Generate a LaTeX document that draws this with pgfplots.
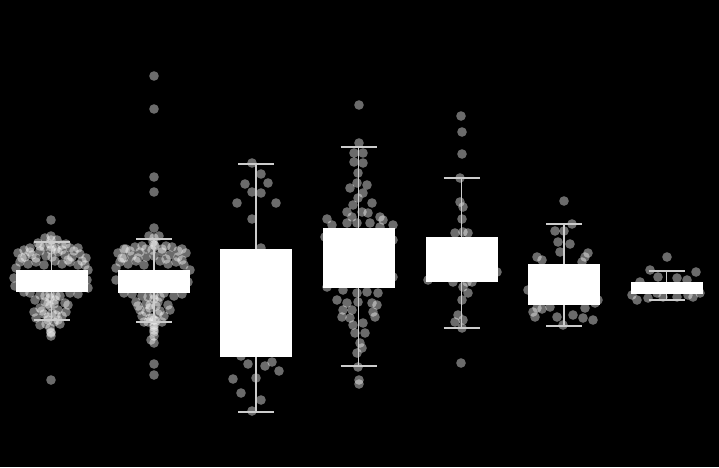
\documentclass[border=0pt]{standalone}
\usepackage{pgfplots}
\pgfplotsset{compat=1.18}
\usepgfplotslibrary{statistics}
\pgfplotsset{boxplot/draw direction=y,
  boxplot/every box/.style={draw=white, fill=white},
  boxplot/every median/.style={draw=white},
  boxplot/every whisker/.style={draw=white!80!black, line width=1.2pt}}
\begin{document}
\begin{tikzpicture}
\fill[black] (0,0) rectangle (719pt,467pt);
\begin{axis}[
  scale only axis, width=719pt, height=467pt,
  xmin=0, xmax=719, ymin=0, ymax=467, y dir=reverse,
  hide axis, clip marker paths=true,
]
% jittered points (x = position, y = value)
\addplot[only marks, mark=*, mark size=4.8pt, color=white, draw opacity=0, fill opacity=0.42] table {
x y
51 220
51 236
51 240
50 244
52 247
38 243
62 245
70 248
30 248
44 247
56 249
45 238
57 240
51 250
40 246
62 250
30 252
74 251
24 250
78 248
66 244
18 253
25 257
32 255
40 251
46 256
58 252
65 255
72 257
80 254
86 258
22 258
36 258
52 257
68 260
82 261
20 262
28 264
36 262
44 265
55 261
62 264
70 262
78 265
85 265
16 268
88 270
14 278
87 280
15 286
88 288
30 293
40 295
50 294
60 296
70 293
24 292
78 294
45 296
56 296
35 300
45 302
55 300
65 303
50 298
48 304
54 304
40 308
50 306
58 310
42 311
56 315
48 317
54 322
46 324
34 312
68 305
60 324
44 314
52 313
62 316
36 318
48 320
58 320
66 312
40 325
50 328
51 332
51 333
51 336
51 380
154 76
154 109
154 177
154 192
154 228
154 238
149 236
159 236
154 245
142 246
166 246
130 251
178 251
124 249
153 242
155 246
152 250
135 247
172 247
126 249
182 249
146 249
162 249
118 253
124 258
132 256
140 252
146 257
162 252
170 255
178 257
186 253
122 258
138 258
154 256
166 259
182 260
120 262
128 264
136 261
144 265
160 261
168 264
176 262
184 265
116 268
190 270
116 280
188 282
132 294
142 296
154 295
164 293
174 296
124 293
182 294
148 297
160 297
136 302
146 304
158 302
168 305
154 299
150 305
156 306
146 312
158 314
150 318
154 320
144 322
162 322
154 325
138 306
170 310
140 310
150 308
160 311
142 316
152 318
164 316
148 322
156 321
154 327
154 330
154 332
154 336
151 340
154 343
154 364
154 375
252 163
261 174
245 184
268 183
252 192
261 193
237 203
276 203
252 219
261 248
240 260
270 280
250 300
262 320
245 340
275 345
241 356
248 364
265 366
272 362
279 371
233 379
256 378
241 393
261 400
252 411
359 105
359 143
354 153
363 153
354 162
363 163
358 173
357 183
367 185
350 188
363 193
358 198
353 205
372 203
347 212
362 212
368 213
352 217
380 217
327 219
383 220
347 223
393 225
332 225
357 223
370 223
380 227
325 237
393 240
340 250
375 260
355 270
327 287
393 277
343 290
357 293
367 292
378 293
337 300
347 303
358 302
372 303
343 310
352 310
377 305
342 317
350 318
373 312
375 317
353 325
363 323
355 333
365 333
360 343
362 348
357 353
358 367
359 380
359 384
461 116
462 132
462 154
460 178
460 202
463 207
462 219
455 233
468 233
463 232
440 255
480 262
428 280
453 282
467 282
472 282
497 272
463 287
468 293
462 300
458 315
455 322
463 320
462 328
461 363
564 201
572 224
555 231
564 231
558 242
570 244
560 252
588 253
585 257
537 257
542 260
582 262
560 280
528 290
598 300
537 308
533 312
542 309
550 307
535 317
557 317
573 315
583 318
593 320
563 325
585 308
595 303
667 257
650 270
696 272
658 277
677 278
687 280
640 282
632 295
637 300
648 298
663 297
677 297
688 295
700 293
693 297
657 293
};
% boxes
\addplot[white, boxplot prepared={draw position=51.5, box extend=71, whisker extend=36, lower whisker=242, lower quartile=270, median=280, upper quartile=291, upper whisker=320}] coordinates {};
\addplot[white, boxplot prepared={draw position=154, box extend=71, whisker extend=36, lower whisker=239, lower quartile=270, median=281, upper quartile=292, upper whisker=322}] coordinates {};
\addplot[white, boxplot prepared={draw position=256, box extend=71, whisker extend=36, lower whisker=164, lower quartile=249, median=300, upper quartile=356, upper whisker=412}] coordinates {};
\addplot[white, boxplot prepared={draw position=358.5, box extend=71, whisker extend=36, lower whisker=147, lower quartile=228, median=258, upper quartile=287, upper whisker=366}] coordinates {};
\addplot[white, boxplot prepared={draw position=461.5, box extend=71, whisker extend=36, lower whisker=178, lower quartile=237, median=258, upper quartile=281, upper whisker=328}] coordinates {};
\addplot[white, boxplot prepared={draw position=564, box extend=71, whisker extend=36, lower whisker=224, lower quartile=264, median=284, upper quartile=304, upper whisker=326}] coordinates {};
\addplot[white, boxplot prepared={draw position=666.5, box extend=71, whisker extend=36, lower whisker=271, lower quartile=282, median=287, upper quartile=293, upper whisker=300}] coordinates {};
\end{axis}
\end{tikzpicture}
\end{document}
